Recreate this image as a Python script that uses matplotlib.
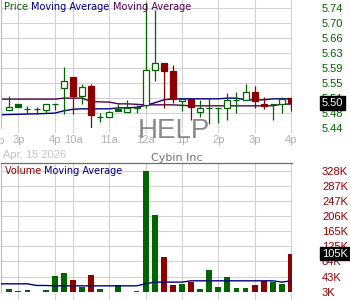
import matplotlib
matplotlib.use('Agg')
import matplotlib.pyplot as plt
from matplotlib.transforms import blended_transform_factory
import numpy as np

# ---------------- data (15-minute candles, HELP) ----------------
opens  = [5.485, 5.499, 5.4875, 5.4875, 5.485, 5.499, 5.539, 5.566, 5.520, 5.545,
          5.468, 5.468, 5.4875, 5.479, 5.493, 5.4975, 5.585, 5.602, 5.581, 5.5083,
          5.512, 5.479, 5.489, 5.489, 5.489, 5.510, 5.510, 5.530, 5.499, 5.499,
          5.499, 5.514]
highs  = [5.520, 5.499, 5.495, 5.492, 5.499, 5.499, 5.591, 5.566, 5.549, 5.550,
          5.478, 5.4825, 5.500, 5.510, 5.4975, 5.756, 5.735, 5.602, 5.5975, 5.512,
          5.512, 5.510, 5.514, 5.489, 5.528, 5.529, 5.550, 5.545, 5.518, 5.499,
          5.518, 5.514]
lows   = [5.485, 5.492, 5.475, 5.475, 5.478, 5.485, 5.474, 5.474, 5.499, 5.440,
          5.454, 5.468, 5.481, 5.479, 5.478, 5.489, 5.558, 5.489, 5.502, 5.481,
          5.459, 5.468, 5.450, 5.453, 5.460, 5.478, 5.510, 5.489, 5.4875, 5.460,
          5.478, 5.483]
closes = [5.491, 5.492, 5.4875, 5.4875, 5.499, 5.499, 5.5575, 5.520, 5.543, 5.471,
          5.468, 5.479, 5.481, 5.489, 5.489, 5.585, 5.602, 5.581, 5.512, 5.5118,
          5.492, 5.489, 5.489, 5.489, 5.510, 5.510, 5.529, 5.506, 5.495, 5.499,
          5.513, 5.502]
direction = [1, 1, 1, 1, 1, 1, 1, -1, 1, -1,
             1, 1, 1, 1, 1, 1, 1, -1, -1, 1,
             -1, 1, 1, 1, 1, 1, 1, -1, -1, 1,
             1, -1]
volumes_k = [11, 6.5, 8.4, 2, 8.4, 46, 54, 35, 17, 48.5,
             11, 2, 22, 2, 6, 328, 209, 97.5, 22, 24,
             30.6, 11, 62, 17, 44, 14.5, 14.5, 22, 32, 28,
             24, 105]
# moving averages (first value belongs to the candle just before the window)
price_ma = [5.4725, 5.4733, 5.4738, 5.4745, 5.475, 5.4758, 5.4768, 5.4825, 5.4863, 5.4875,
            5.4875, 5.4875, 5.4875, 5.490, 5.490, 5.4913, 5.4963, 5.5025, 5.510, 5.5125,
            5.5125, 5.5125, 5.5125, 5.5125, 5.5125, 5.5143, 5.5143, 5.510, 5.510, 5.510,
            5.5125, 5.5125, 5.5125]
price_ma2 = [5.5118, 5.5118, 5.5118, 5.5118, 5.5118, 5.5118, 5.5118, 5.5143, 5.5143, 5.5143,
             5.5058, 5.505, 5.5043, 5.500, 5.500, 5.4988, 5.4975, 5.4975, 5.4975, 5.4975,
             5.4963, 5.495, 5.495, 5.495, 5.495, 5.495, 5.495, 5.495, 5.495, 5.495,
             5.495, 5.4993, 5.4993]
volume_ma = [24.4, 24.4, 24.4, 24.4, 20, 20, 19, 19, 19, 19,
             19, 19, 19, 19, 19, 19, 24.4, 29, 29, 29,
             29, 32.5, 32.5, 32.5, 32.5, 32.5, 32.5, 32.5, 32.5, 32.5,
             32.5, 29, 32.5]

hour_ticks = [1, 5, 7, 11, 15, 19, 23, 27, 31]
hour_labels = ['3p', '4p', '10a', '11a', '12a', '1p', '2p', '3p', '4p']
price_ticks = [5.44, 5.4775, 5.515, 5.5525, 5.59, 5.6275, 5.665, 5.7025, 5.74]
price_tick_labels = ['5.44', '5.48', '5.51', '5.55', '5.59', '5.63', '5.66', '5.70', '5.74']
vol_ticks = [3, 43.6, 84.3, 124.9, 165.5, 206.1, 246.8, 287.4, 328]
vol_tick_labels = ['3K', '43K', '84K', '125K', '165K', '206K', '247K', '287K', '328K']

symbol = 'HELP'
company = 'Cybin Inc'
date_label = 'Apr, 15 2026'

# ---------------- styles ----------------
GREEN = '#006400'
RED = '#8b0000'
NAVY = '#000080'
PURPLE = '#550055'
GRID = '#d2d2d2'
W, H = 350, 300
SANS = 'Liberation Sans'

fig = plt.figure(figsize=(3.5, 3.0), dpi=100)
fig.patch.set_facecolor('white')

def fx(px):
    return px / W

def fy(py):
    return 1 - py / H

ax = fig.add_axes([fx(1), fy(128), fx(292) - fx(1), fy(0) - fy(128)])
axv = fig.add_axes([fx(1), fy(292), fx(292) - fx(1), fy(162.7) - fy(292)])

n = len(closes)
idx = np.arange(n)
ma_idx = np.arange(-1, n)
step = 9.087
xlo = (1 - 9.3) / step
xhi = (292 - 9.3) / step

for a in (ax, axv):
    a.set_xlim(xlo, xhi)
    for s in a.spines.values():
        s.set_visible(False)
    a.spines['left'].set_visible(True)
    a.spines['left'].set_color('#bdbdbd')
    a.spines['left'].set_linewidth(0.8)
    a.set_xticks(hour_ticks)
    a.grid(True, color=GRID, lw=0.8)
    a.set_axisbelow(True)
    a.yaxis.tick_right()
    a.tick_params(axis='y', length=0, pad=21.6, labelsize=8)
    for lab in a.get_yticklabels():
        lab.set_family(SANS)

axv.spines['top'].set_visible(True)
axv.spines['top'].set_color('#6e6e6e')
axv.spines['top'].set_linewidth(0.9)

# ---------------- price panel ----------------
ax.set_ylim(5.4395, 5.76)
ax.set_yticks(price_ticks, price_tick_labels)
ax.tick_params(axis='y', labelcolor=GREEN)
ax.set_xticklabels(hour_labels)
ax.tick_params(axis='x', length=3.6, color=GRID, width=0.8, pad=1.2,
               labelsize=8, labelcolor='#b0b0b0')
for lab in ax.get_xticklabels() + ax.get_yticklabels():
    lab.set_family(SANS)

ax.plot(ma_idx, price_ma2, color=PURPLE, lw=1.0, zorder=2)
ax.plot(ma_idx, price_ma, color=NAVY, lw=1.0, zorder=2)

bw = 0.66
for i in range(n):
    o, h, l, c = opens[i], highs[i], lows[i], closes[i]
    col = GREEN if direction[i] > 0 else RED
    ax.vlines(i, l, h, color=col, lw=0.9, zorder=3)
    bottom = min(o, c)
    height = abs(c - o)
    if height < 1e-9:
        ax.hlines(o, i - bw / 2, i + bw / 2, color=col, lw=0.9, zorder=4)
    else:
        face = 'white' if c > o else col
        ax.bar(i, height, bottom=bottom, width=bw, facecolor=face,
               edgecolor=col, linewidth=0.9, zorder=4)

# watermark (centred on the figure)
ax.text(fx(174), fy(138), symbol, transform=fig.transFigure,
        fontsize=20, family=SANS, color='#8a8a8a', ha='center', va='baseline',
        clip_on=False, zorder=2.2)

# cut-off previous hour label at the left edge
fig.text(fx(-1), fy(140.7), '2p', fontsize=8, family=SANS, color='#b0b0b0',
         ha='center', va='center')

# last price marker
last_close = closes[-1]
ax.text(1 + 30 / 291, last_close, f'{last_close:.2f}',
        transform=blended_transform_factory(ax.transAxes, ax.transData),
        fontsize=8, family=SANS, color='white', ha='left', va='center',
        bbox=dict(boxstyle='square,pad=0.15', fc='black', ec='black'),
        clip_on=False, zorder=10)

# ---------------- volume panel ----------------
axv.set_ylim(2.5, 349.1)
axv.set_yticks(vol_ticks, vol_tick_labels)
axv.tick_params(axis='y', labelcolor=RED)
axv.tick_params(axis='x', length=5.8, color=GRID, width=0.8, labelbottom=False)
for lab in axv.get_yticklabels():
    lab.set_family(SANS)

vcols = [GREEN if d > 0 else RED for d in direction]
axv.bar(idx, volumes_k, width=0.64, color=vcols, zorder=3)
axv.plot(ma_idx, volume_ma, color=NAVY, lw=1.0, zorder=4)

last_vol = volumes_k[-1]
axv.text(1 + 30 / 291, last_vol, f'{last_vol:.0f}K',
         transform=blended_transform_factory(axv.transAxes, axv.transData),
         fontsize=8, family=SANS, color='white', ha='left', va='center',
         bbox=dict(boxstyle='square,pad=0.15', fc='black', ec='black'),
         clip_on=False, zorder=10)

# ---------------- legend / header texts ----------------
renderer = fig.canvas.get_renderer()

def text_width(s, **kw):
    t = fig.text(0, 0, s + '|', **kw)
    w1 = t.get_window_extent(renderer).width
    t.remove()
    t = fig.text(0, 0, '|', **kw)
    w2 = t.get_window_extent(renderer).width
    t.remove()
    return w1 - w2

def draw_pieces(x_px, y_px, pieces, **kw):
    prefix = ''
    for s, color in pieces:
        off = text_width(prefix, **kw) if prefix else 0
        fig.text(fx(x_px + off), fy(y_px), s, color=color, ha='left',
                 va='baseline', **kw)
        prefix += s

lkw = dict(fontsize=7, family='DejaVu Sans')
draw_pieces(4, 10, [('Price ', GREEN), ('Moving Average ', NAVY),
                    ('Moving Average', PURPLE)], **lkw)
draw_pieces(5, 174.3, [('Volume ', RED), ('Moving Average', NAVY)], **lkw)

fig.text(fx(3), fy(157.5), date_label, fontsize=8, family=SANS,
         color='#c4c4c4', ha='left', va='baseline')
fig.text(fx(176.5), fy(160.7), company, fontsize=8, family='DejaVu Sans',
         color='#707070', ha='center', va='baseline')

fig.savefig('out.png', dpi=100, facecolor='white')
